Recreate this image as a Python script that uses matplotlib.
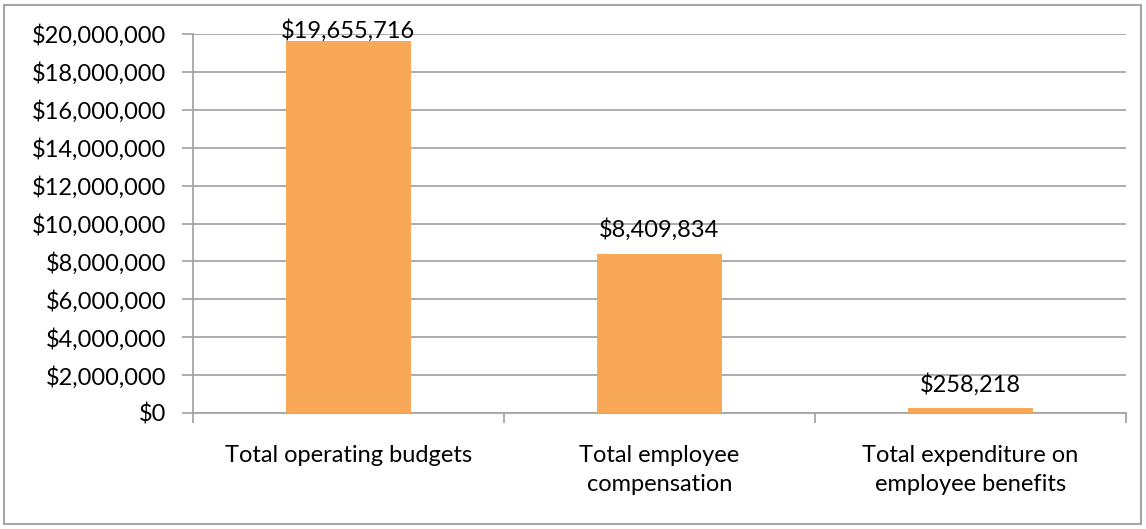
import matplotlib
matplotlib.use("Agg")
import matplotlib.pyplot as plt
from matplotlib.patches import Rectangle
from matplotlib.ticker import FuncFormatter, MultipleLocator

# data
categories = ["Total operating budgets", "Total employee\ncompensation",
              "Total expenditure on\nemployee benefits"]
values = [19655716, 8409834, 258218]
# how far each value label sits above its bar (points)
label_offsets = [-1, 9, 9]

plt.rcParams["font.family"] = ["Lato", "DejaVu Sans"]
fs = 17

fig = plt.figure(figsize=(11.46, 5.29), dpi=100)
ax = fig.add_axes([0.1684, 0.2193, 0.8141, 0.7164])

grey = "#a6a6a6"
x = range(len(values))
ax.bar(x, values, width=0.4, color="#f9a857", zorder=3)

# y axis in dollars
ax.set_ylim(0, 20000000)
ax.yaxis.set_major_locator(MultipleLocator(2000000))
ax.yaxis.set_major_formatter(FuncFormatter(lambda v, p: "${:,.0f}".format(v)))
ax.grid(axis="y", color=grey, linewidth=1.3, zorder=0)

# x axis: categories, ticks between them
ax.set_xlim(-0.5, len(values) - 0.5)
ax.set_xticks([i - 0.5 for i in range(len(values) + 1)])
ax.set_xticklabels([])
ax.set_xticks(list(x), minor=True)
ax.set_xticklabels(categories, minor=True, fontsize=fs, linespacing=1.5)
ax.tick_params(axis="x", which="minor", length=0, pad=23)
ax.tick_params(axis="x", which="major", length=7, width=1.3, color=grey)
ax.tick_params(axis="y", length=8, width=1.3, color=grey, labelsize=fs, pad=11)

for side in ["top", "right"]:
    ax.spines[side].set_visible(False)
for side in ["left", "bottom"]:
    ax.spines[side].set_color(grey)
    ax.spines[side].set_linewidth(1.3)

# value labels
for i, v in enumerate(values):
    ax.annotate("${:,}".format(v), (i, v), xytext=(0, label_offsets[i]),
                textcoords="offset points", ha="center", va="bottom",
                fontsize=fs, annotation_clip=False)

# chart border
fig.patches.append(Rectangle((4 / 1146, 5 / 529), 1137 / 1146, 519 / 529,
                             transform=fig.transFigure, fill=False,
                             edgecolor=grey, linewidth=1.5))

fig.savefig("out.png", dpi=100)
